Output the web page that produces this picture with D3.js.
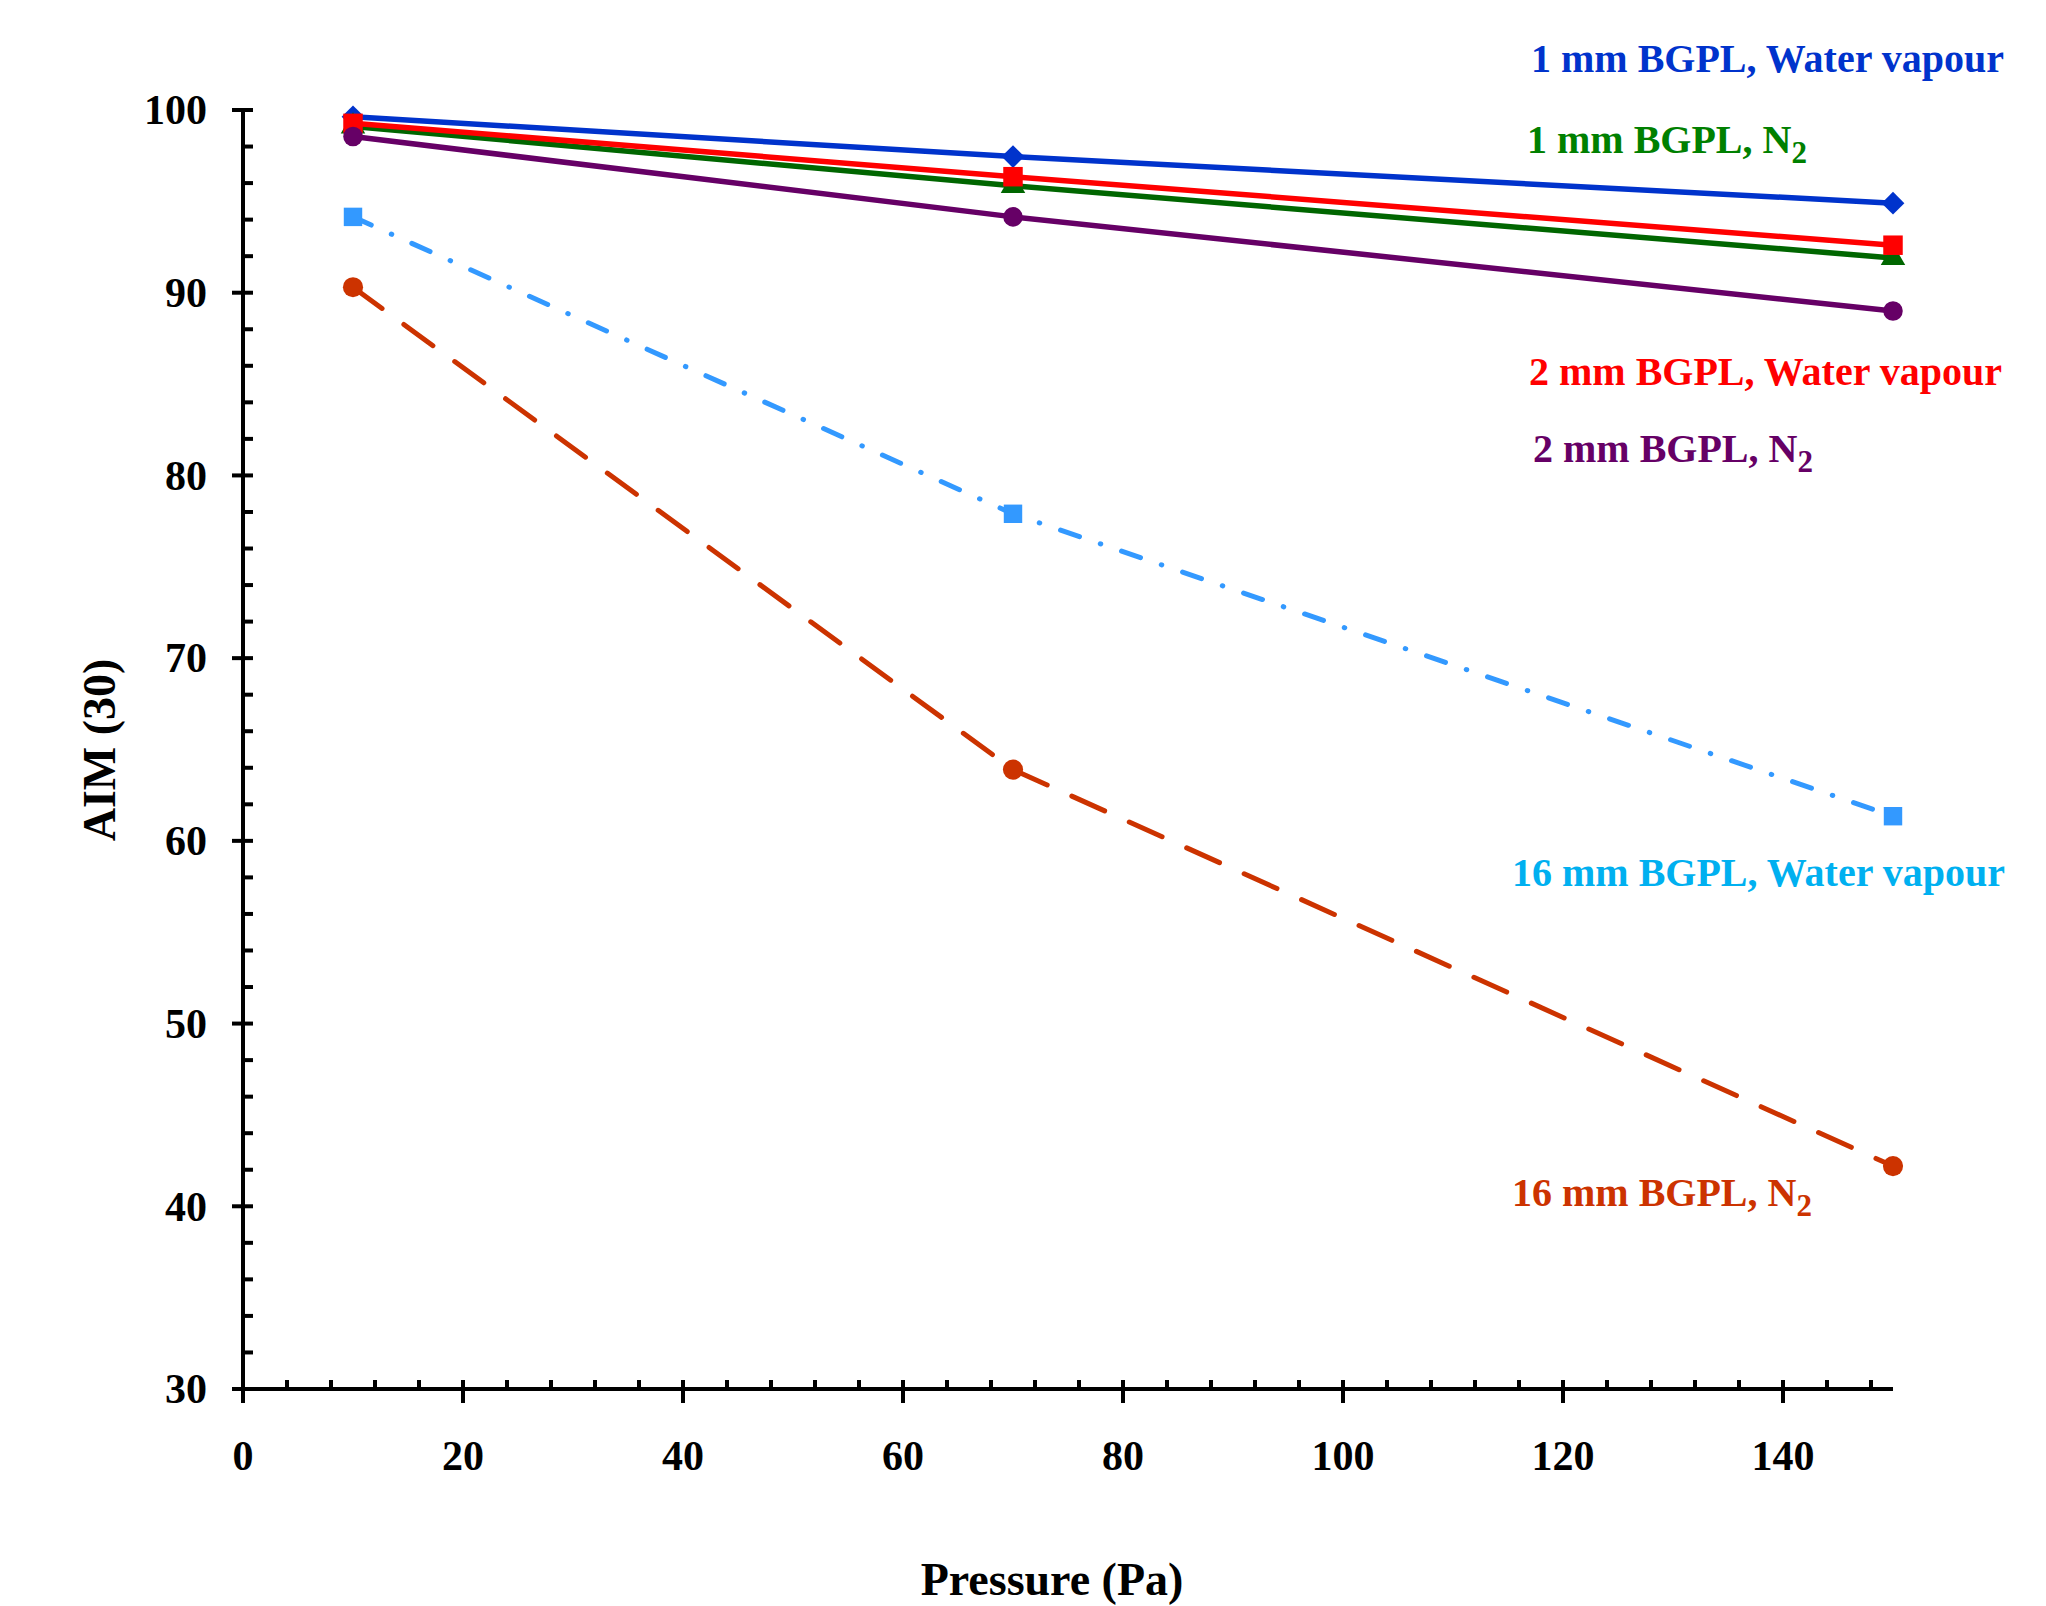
<!DOCTYPE html>
<html>
<head>
<meta charset="utf-8">
<script src="https://cdn.jsdelivr.net/npm/d3@7"></script>
<style>
  body { margin: 0; background: #fff; }
  text { font-family: "Liberation Serif", "Times New Roman", serif; font-weight: bold; }
</style>
</head>
<body>
<svg id="chart"></svg>
<script>
// pressure values (Pa)
const pressures = [10, 70, 150];

// AIM(30) values
const mm1Water = [99.63, 97.45, 94.9];
const mm1N2 = [99.1, 95.85, 91.9];
const mm2Water = [99.27, 96.35, 92.6];
const mm2N2 = [98.55, 94.15, 89.0];
const mm16Water = [94.15, 77.9, 61.35];
const mm16N2 = [90.3, 63.9, 42.2];

const xTicks = [0, 20, 40, 60, 80, 100, 120, 140];
const yTicks = [30, 40, 50, 60, 70, 80, 90, 100];

function main() {
    let width = 2046;
    let height = 1606;

    let svg = d3.select("#chart")
        .attr("width", width)
        .attr("height", height);

    let x = d3.scaleLinear().domain([0, 150]).range([243, 1893]);
    let y = d3.scaleLinear().domain([30, 100]).range([1389, 110]);

    // series in drawing order (later ones sit on top)
    let series = [
        { name: "1 mm BGPL, Water vapour", sub: "", values: mm1Water, line: "#0033cc", text: "#0033cc", marker: d3.symbolDiamond2, size: 330, dash: null, lx: 1531, ly: 72 },
        { name: "1 mm BGPL, N", sub: "2", values: mm1N2, line: "#006600", text: "#008000", marker: d3.symbolTriangle, size: 260, dash: null, lx: 1527, ly: 153 },
        { name: "2 mm BGPL, Water vapour", sub: "", values: mm2Water, line: "#ff0000", text: "#ff0000", marker: d3.symbolSquare, size: 380, dash: null, lx: 1529, ly: 385 },
        { name: "2 mm BGPL, N", sub: "2", values: mm2N2, line: "#660066", text: "#660066", marker: d3.symbolCircle, size: 300, dash: null, lx: 1533, ly: 462 },
        { name: "16 mm BGPL, Water vapour", sub: "", values: mm16Water, line: "#3399ff", text: "#00b0f0", marker: d3.symbolSquare, size: 340, dash: "20,22,0.5,22", lx: 1512, ly: 886 },
        { name: "16 mm BGPL, N", sub: "2", values: mm16N2, line: "#cc3300", text: "#cc3300", marker: d3.symbolCircle, size: 320, dash: "36,27", lx: 1512, ly: 1206 }
    ];

    // axes: minor ticks first, drawn inside the plot
    let xMinor = d3.range(0, 151, 4).filter(v => v % 20 !== 0);
    let yMinor = d3.range(30, 101, 2).filter(v => v % 10 !== 0);

    let axes = svg.append("g").attr("stroke", "#000").attr("stroke-width", 4);

    axes.append("line")
        .attr("x1", x(0) - 2).attr("x2", x(150))
        .attr("y1", y(30)).attr("y2", y(30));
    axes.append("line")
        .attr("x1", x(0)).attr("x2", x(0))
        .attr("y1", y(100) - 2).attr("y2", y(30) + 2);

    axes.selectAll(".xminor")
        .data(xMinor)
        .join("line")
        .attr("x1", d => x(d)).attr("x2", d => x(d))
        .attr("y1", y(30) - 9).attr("y2", y(30));
    axes.selectAll(".xmajor")
        .data(xTicks)
        .join("line")
        .attr("x1", d => x(d)).attr("x2", d => x(d))
        .attr("y1", y(30) - 9).attr("y2", y(30) + 14);

    axes.selectAll(".yminor")
        .data(yMinor)
        .join("line")
        .attr("x1", x(0)).attr("x2", x(0) + 10)
        .attr("y1", d => y(d)).attr("y2", d => y(d));
    axes.selectAll(".ymajor")
        .data(yTicks)
        .join("line")
        .attr("x1", x(0) - 11).attr("x2", x(0) + 10)
        .attr("y1", d => y(d)).attr("y2", d => y(d));

    // tick labels
    svg.append("g").selectAll("text")
        .data(xTicks)
        .join("text")
        .attr("x", d => x(d))
        .attr("y", 1470)
        .attr("text-anchor", "middle")
        .attr("font-size", "42px")
        .text(d => d);

    svg.append("g").selectAll("text")
        .data(yTicks)
        .join("text")
        .attr("x", 207)
        .attr("y", d => y(d))
        .attr("dy", "0.34em")
        .attr("text-anchor", "end")
        .attr("font-size", "42px")
        .text(d => d);

    // axis titles
    svg.append("text")
        .attr("x", 1052)
        .attr("y", 1595)
        .attr("text-anchor", "middle")
        .attr("font-size", "46px")
        .text("Pressure (Pa)");

    svg.append("text")
        .attr("transform", "translate(115, 750) rotate(-90)")
        .attr("text-anchor", "middle")
        .attr("font-size", "46px")
        .text("AIM (30)");

    // lines
    let line = d3.line()
        .x((d, i) => x(pressures[i]))
        .y(d => y(d));

    series.forEach(function(s) {
        let g = svg.append("g");
        g.append("path")
            .datum(s.values)
            .attr("d", line)
            .attr("fill", "none")
            .attr("stroke", s.line)
            .attr("stroke-width", s.dash ? 5 : 5.5)
            .attr("stroke-linecap", "round")
            .attr("stroke-dasharray", s.dash);

        g.selectAll("path.pt")
            .data(s.values)
            .join("path")
            .attr("class", "pt")
            .attr("transform", (d, i) => "translate(" + x(pressures[i]) + "," + y(d) + ")")
            .attr("d", d3.symbol().type(s.marker).size(s.size))
            .attr("fill", s.line);
    });

    // series labels
    series.forEach(function(s) {
        let t = svg.append("text")
            .attr("x", s.lx)
            .attr("y", s.ly)
            .attr("font-size", "40px")
            .attr("fill", s.text)
            .text(s.name);
        if (s.sub) {
            t.append("tspan")
                .attr("dy", 10)
                .attr("font-size", "31px")
                .text(s.sub);
        }
    });
}

main();
</script>
</body>
</html>
